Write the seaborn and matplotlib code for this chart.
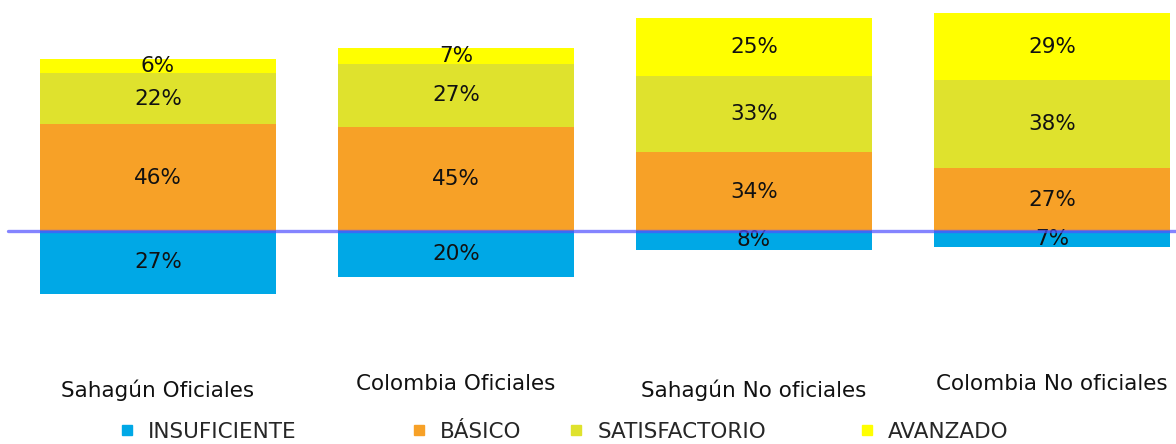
import seaborn as sns
import matplotlib.pyplot as plt
import pandas as pd
import numpy as np
from matplotlib.lines import Line2D

# Categories and levels
grupos = ['Sahagún Oficiales', 'Colombia Oficiales', 'Sahagún No oficiales', 'Colombia No oficiales']
niveles = ['INSUFICIENTE', 'BÁSICO', 'SATISFACTORIO', 'AVANZADO']

# Percentages per level
insuficiente = [27, 20, 8, 7]
basico = [46, 45, 34, 27]
satisfactorio = [22, 27, 33, 38]
avanzado = [6, 7, 25, 29]

colores = ['#00A8E6', '#F7A127', '#DFE22D', '#FFFF00']

df = pd.DataFrame({
    'grupo': grupos,
    'INSUFICIENTE': insuficiente,
    'BÁSICO': basico,
    'SATISFACTORIO': satisfactorio,
    'AVANZADO': avanzado,
})

sns.set_style('white')
plt.rcParams['font.family'] = ['DejaVu Sans']

fig = plt.figure(figsize=(11.76, 4.44), dpi=100)
ax = fig.add_axes([0, 0, 1, 1])

fs = 15.5

# Insuficiente goes below zero, the rest stacked above
sns.barplot(x=df['grupo'], y=-df['INSUFICIENTE'], order=grupos, color=colores[0],
            width=0.79, ax=ax, saturation=1, linewidth=0)
bottom = np.zeros(len(grupos))
for nivel, col in zip(niveles[1:], colores[1:]):
    vals = df[nivel].to_numpy()
    sns.barplot(x=df['grupo'], y=vals, order=grupos, color=col, width=0.79,
                ax=ax, saturation=1, linewidth=0, bottom=bottom)
    bottom = bottom + vals

# Percentage labels at segment centres
for i in range(len(grupos)):
    ax.text(i, -insuficiente[i] / 2, f'{insuficiente[i]}%', ha='center', va='center',
            fontsize=fs, color='#111111')
    base = 0
    for nivel in niveles[1:]:
        v = df[nivel].iloc[i]
        ax.text(i, base + v / 2, f'{v}%', ha='center', va='center',
                fontsize=fs, color='#111111')
        base += v

# Zero line
ax.axhline(0, xmin=0.007, xmax=1, color='#5050ff', alpha=0.7, linewidth=2.4, zorder=5)

# Category labels, staggered
for i, g in enumerate(grupos):
    y = -68.5 if i % 2 == 0 else -66
    ax.text(i, y, g, ha='center', va='center', fontsize=fs, color='#111111')

ax.set_xlim(-0.53, 3.416)
ax.set_ylim(-91.8, 99.6)
ax.axis('off')

# Legend entries
leg_x = [118, 410, 567, 858]
for nivel, col, lx in zip(niveles, colores, leg_x):
    h = Line2D([], [], marker='s', linestyle='none', color=col, markersize=7)
    fig.legend(handles=[h], labels=[nivel], loc='center left',
               bbox_to_anchor=(lx / 1176, 1 - 432 / 444), frameon=False,
               fontsize=fs, handlelength=0.8, handletextpad=0.6,
               borderaxespad=0, borderpad=0)

fig.savefig('out.png', dpi=100)
plt.close(fig)
